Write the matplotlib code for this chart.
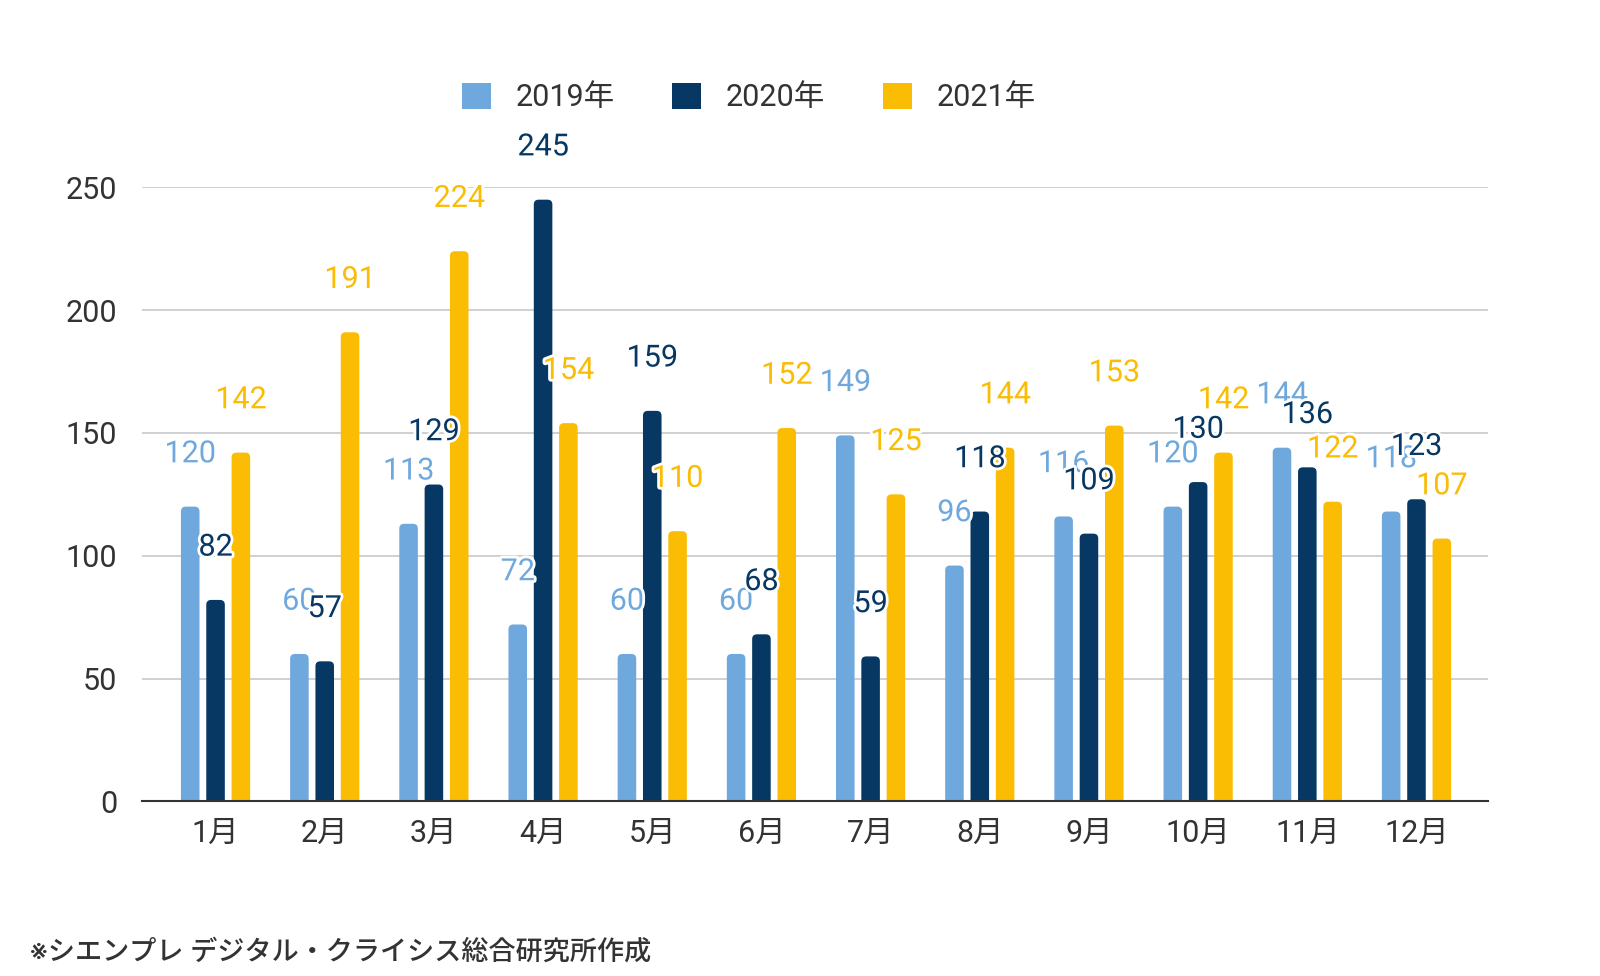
import numpy as np
import matplotlib
matplotlib.use('Agg')
from matplotlib import pyplot as plt
import matplotlib.patheffects as pe
from matplotlib.patches import FancyBboxPatch

plt.rcParams['font.family'] = ['Roboto', 'Noto Sans CJK JP', 'DejaVu Sans']

months = ['1月', '2月', '3月', '4月', '5月', '6月', '7月', '8月', '9月', '10月', '11月', '12月']
years = ['2019年', '2020年', '2021年']
v2019 = [120, 60, 113, 72, 60, 60, 149, 96, 116, 120, 144, 118]
v2020 = [82, 57, 129, 245, 159, 68, 59, 118, 109, 130, 136, 123]
v2021 = [142, 191, 224, 154, 110, 152, 125, 144, 153, 142, 122, 107]
colors = ['#6fa8dc', '#073763', '#fbbc04']

fig = plt.figure(figsize=(16, 9.76), dpi=100)
ax = fig.add_axes([0.089, 0.179, 0.841, 0.629])

x = np.arange(len(months))
width = 0.17
step = 0.232
handles = []
for i, (vals, col, lab) in enumerate(zip([v2019, v2020, v2021], colors, years)):
    pos = x + (i - 1) * step
    bars = ax.bar(pos, vals, width, color=col, label=lab, zorder=3)
    handles.append(bars)
    # swap the plain rectangles for ones with rounded tops
    for rect in bars:
        rect.set_visible(False)
        rb = FancyBboxPatch((rect.get_x(), -4), rect.get_width(), rect.get_height() + 4,
                            boxstyle='round,pad=0,rounding_size=0.045',
                            mutation_aspect=43, facecolor=col, edgecolor='none', zorder=3)
        ax.add_patch(rb)
    for px, v in zip(pos, vals):
        ax.annotate(str(v), (px, v), xytext=(0, 38), textcoords='offset points',
                    ha='center', va='center', fontsize=22, color=col, zorder=5,
                    annotation_clip=False,
                    path_effects=[pe.withStroke(linewidth=4, foreground='white')])

ax.set_xlim(-0.67, 11.655)
ax.set_ylim(0, 250)
ax.set_yticks([0, 50, 100, 150, 200, 250])
ax.set_xticks(x)
ax.set_xticklabels(months)
ax.tick_params(axis='both', length=0, labelsize=22, colors='#333333')
ax.tick_params(axis='y', pad=18)
ax.tick_params(axis='x', pad=13)
ax.grid(axis='y', color='#c8c8c8', linewidth=1.2, zorder=0)
for s in ['top', 'right', 'left']:
    ax.spines[s].set_visible(False)
ax.spines['bottom'].set_color('#333333')
ax.spines['bottom'].set_linewidth(1.5)
ax.spines['bottom'].set_zorder(4)

leg = fig.legend(handles=handles, labels=years, loc='center', bbox_to_anchor=(0.468, 0.9),
                 ncol=3, frameon=False, fontsize=22, handlelength=0.95, handleheight=0.95,
                 columnspacing=1.9, handletextpad=0.8, labelcolor='#333333')
for h in leg.legend_handles:
    h.set_visible(True)

fig.text(0.019, 0.025, '※シエンプレ デジタル・クライシス総合研究所作成', fontsize=19.5,
         fontweight='medium', color='#333333', ha='left', va='center')

fig.savefig('out.png', dpi=100, facecolor='white')
